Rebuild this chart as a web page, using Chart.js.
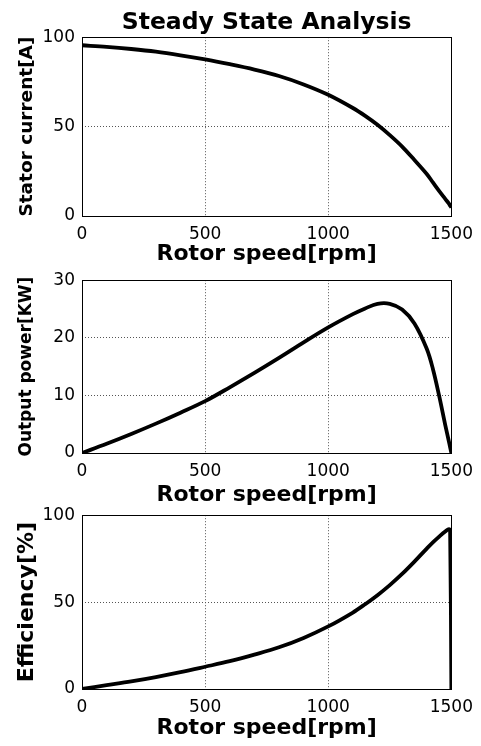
<!DOCTYPE html>
<html>
<head>
<meta charset="utf-8">
<title>Steady State Analysis</title>
<script src="https://cdn.jsdelivr.net/npm/chart.js@4.4.1/dist/chart.umd.min.js"></script>
<style>
  html, body { margin: 0; padding: 0; background: #fff; }
  #wrap { position: relative; width: 481px; height: 746px; overflow: hidden; }
  #wrap canvas { position: absolute; left: 0; }
</style>
</head>
<body>
<div id="wrap">
  <canvas id="currentChart" width="481" height="267" style="top:0px"></canvas>
  <canvas id="powerChart" width="481" height="245" style="top:263px"></canvas>
  <canvas id="effChart" width="481" height="243" style="top:498px"></canvas>
</div>
<script>
// values
const speedRpm = [0, 100, 200, 300, 400, 500, 600, 700, 800, 900, 1000, 1100, 1150, 1200, 1250, 1300, 1350, 1400, 1425, 1450, 1475, 1490, 1495, 1500];
const statorCurrent = [95.5, 94.6, 93.4, 91.9, 89.9, 87.6, 84.9, 81.9, 78.3, 73.6, 67.8, 60.4, 56.0, 51.0, 45.2, 38.8, 31.3, 23.5, 18.8, 14.1, 9.6, 6.9, 5.8, 4.7];
const outputPower = [0, 1.6, 3.3, 5.1, 7.0, 9.0, 11.4, 13.9, 16.5, 19.2, 21.8, 24.1, 25.1, 25.9, 25.9, 24.9, 22.5, 18.1, 14.6, 10.0, 4.9, 2.0, 1.0, 0];
const efficiency = [0, 2.2, 4.4, 6.9, 9.7, 12.8, 16.0, 19.8, 24.0, 29.4, 36.0, 44.0, 48.8, 54.0, 59.8, 66.2, 73.3, 80.8, 84.4, 87.6, 90.6, 92.0, 90.5, 0];

const speedTicks = [0, 500, 1000, 1500];
const currentTicks = [0, 50, 100];
const powerTicks = [0, 10, 20, 30];
const effTicks = [0, 50, 100];

const FONT = 'DejaVu Sans';
Chart.defaults.font.family = FONT;
Chart.defaults.color = '#000';

// solid box round the plot area, like matlab's axes frame
const frameBox = {
    id: 'frameBox',
    beforeDatasetsDraw(chart) {
        const a = chart.chartArea;
        const ctx = chart.ctx;
        ctx.save();
        ctx.strokeStyle = '#000';
        ctx.lineWidth = 1;
        ctx.strokeRect(Math.round(a.left) + 0.5, Math.round(a.top) + 0.5,
            Math.round(a.right - a.left), Math.round(a.bottom - a.top));
        ctx.restore();
    },
};

const useTicks = (list) => (scale) => {
    scale.ticks = list.map((v) => ({ value: v }));
};
const plainLabel = (v) => String(v);

function makeChart(id, cfg) {
    const points = speedRpm.map((s, i) => ({ x: s, y: cfg.values[i] }));
    return new Chart(document.getElementById(id), {
        type: 'line',
        data: {
            datasets: [{
                data: points,
                borderColor: '#000',
                borderWidth: 3.8,
                pointRadius: 0,
                fill: false,
                tension: 0.35,
            }],
        },
        options: {
            responsive: false,
            animation: false,
            devicePixelRatio: 1,
            layout: { padding: { top: cfg.padTop, right: 29, bottom: 0, left: 0 } },
            plugins: {
                legend: { display: false },
                tooltip: { enabled: false },
                title: cfg.title ? {
                    display: true,
                    text: cfg.title,
                    fullSize: false,
                    color: '#000',
                    font: { family: FONT, size: 23.5, weight: 'bold' },
                    padding: { top: 9, bottom: 0 },
                } : { display: false },
            },
            scales: {
                x: {
                    type: 'linear',
                    min: 0,
                    max: 1500,
                    afterBuildTicks: useTicks(speedTicks),
                    afterFit: (s) => { s.height = cfg.xAxisHeight; },
                    grid: { color: '#555', lineWidth: 1, drawTicks: false },
                    border: { display: false, dash: [1, 2] },
                    ticks: { padding: 8, color: '#000', font: { family: FONT, size: 17 }, callback: plainLabel },
                    title: {
                        display: true,
                        text: 'Rotor speed[rpm]',
                        color: '#000',
                        font: { family: FONT, size: 22, weight: 'bold' },
                        padding: { top: 0, bottom: 0 },
                    },
                },
                y: {
                    min: cfg.yTicks[0],
                    max: cfg.yTicks[cfg.yTicks.length - 1],
                    afterBuildTicks: useTicks(cfg.yTicks),
                    afterFit: (s) => { s.width = 82; },
                    grid: { color: '#555', lineWidth: 1, drawTicks: false },
                    border: { display: false, dash: [1, 2] },
                    ticks: { padding: 7, color: '#000', font: { family: FONT, size: 17 }, callback: plainLabel },
                    title: {
                        display: true,
                        text: cfg.yLabel,
                        color: '#000',
                        font: { family: FONT, size: cfg.yLabelSize, weight: 'bold' },
                        padding: { top: cfg.yLabelPad, bottom: 0 },
                    },
                },
            },
        },
        plugins: [frameBox],
    });
}

makeChart('currentChart', {
    values: statorCurrent,
    yTicks: currentTicks,
    yLabel: 'Stator current[A]',
    yLabelSize: 18.5,
    yLabelPad: 16.5,
    title: 'Steady State Analysis',
    padTop: 0,
    xAxisHeight: 51,
});

makeChart('powerChart', {
    values: outputPower,
    yTicks: powerTicks,
    yLabel: 'Output power[KW]',
    yLabelSize: 17,
    yLabelPad: 16.5,
    padTop: 12,
    xAxisHeight: 55,
});

makeChart('effChart', {
    values: efficiency,
    yTicks: effTicks,
    yLabel: 'Efficiency[%]',
    yLabelSize: 22,
    yLabelPad: 14,
    padTop: 12,
    xAxisHeight: 52,
});
</script>
</body>
</html>
